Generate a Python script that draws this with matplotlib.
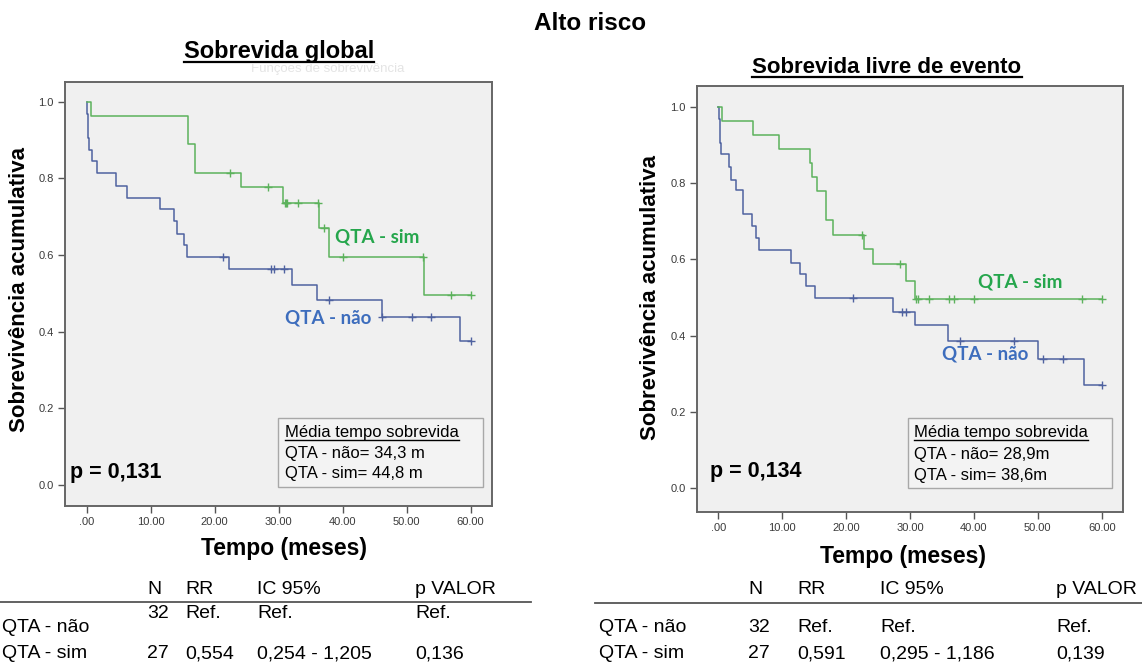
import numpy as np
import matplotlib
matplotlib.use("Agg")
import matplotlib.pyplot as plt
from matplotlib.patches import Rectangle
from matplotlib.lines import Line2D

plt.rcParams['font.family'] = ['Liberation Sans', 'DejaVu Sans']

# ---------------- data ----------------
# Overall survival (Sobrevida global)
os_sim_times = [0.7, 15.8, 17.0, 24.2, 30.7, 36.3, 37.9, 52.7]
os_sim_surv = [0.963, 0.889, 0.815, 0.778, 0.735, 0.670, 0.594, 0.496]
os_sim_cens = [22.4, 28.4, 31.0, 31.2, 31.4, 33.0, 36.2, 37.1, 40.1, 52.6, 57.0, 60.0]

os_nao_times = [0.1, 0.2, 0.3, 0.4, 0.9, 1.7, 4.6, 6.4, 11.5, 13.7, 14.1, 15.3, 15.7,
                22.3, 32.1, 36.0, 46.1, 58.3]
os_nao_surv = [0.969, 0.938, 0.906, 0.875, 0.844, 0.813, 0.781, 0.750, 0.719, 0.688,
               0.656, 0.625, 0.594, 0.563, 0.522, 0.483, 0.439, 0.376]
os_nao_cens = [21.3, 28.8, 29.3, 30.9, 37.9, 46.2, 50.8, 53.9, 60.0]

# Event-free survival (Sobrevida livre de evento)
efs_sim_times = [0.6, 5.5, 9.5, 14.4, 14.7, 15.5, 16.8, 17.9, 22.8, 24.2, 29.3, 30.8]
efs_sim_surv = [0.963, 0.926, 0.889, 0.852, 0.815, 0.778, 0.704, 0.665, 0.626, 0.587,
                0.542, 0.496]
efs_sim_cens = [22.5, 28.4, 31.0, 31.3, 33.0, 36.1, 36.9, 40.0, 56.9, 60.0]

efs_nao_times = [0.1, 0.2, 0.3, 0.4, 1.7, 2.0, 2.7, 3.8, 5.3, 5.9, 6.4, 11.4, 12.8,
                 13.7, 15.2, 27.4, 30.8, 35.9, 50.0, 57.3]
efs_nao_surv = [0.969, 0.938, 0.906, 0.875, 0.843, 0.809, 0.781, 0.720, 0.687, 0.656,
                0.625, 0.591, 0.561, 0.529, 0.500, 0.463, 0.428, 0.387, 0.339, 0.270]
efs_nao_cens = [21.1, 28.8, 29.3, 37.8, 46.2, 50.8, 53.9, 60.0]

x_ticks = [0, 10, 20, 30, 40, 50, 60]
x_tick_labels = ['.00', '10.00', '20.00', '30.00', '40.00', '50.00', '60.00']
y_ticks = [0.0, 0.2, 0.4, 0.6, 0.8, 1.0]
y_tick_labels = ['0.0', '0.2', '0.4', '0.6', '0.8', '1.0']

p_os = '0,131'
p_efs = '0,134'
mean_os = ['34,3 m', '44,8 m']
mean_efs = ['28,9m', '38,6m']

table_header = ['N', 'RR', 'IC 95%', 'p VALOR']
table_groups = ['QTA - não', 'QTA - sim']
os_table = [['32', 'Ref.', 'Ref.', 'Ref.'],
            ['27', '0,554', '0,254 - 1,205', '0,136']]
efs_table = [['32', 'Ref.', 'Ref.', 'Ref.'],
             ['27', '0,591', '0,295 - 1,186', '0,139']]

# ---------------- style ----------------
GREEN_LINE = '#5cb25c'
BLUE_LINE = '#4f62a0'
GREEN_TXT = '#25a64c'
BLUE_TXT = '#3d6dbd'
PANEL_BG = '#f0f0f0'
FRAME = '#666666'

W, H = 1142, 668
fig = plt.figure(figsize=(W / 100, H / 100), dpi=100)


def fx(x):
    return x / W


def fy(y):
    return 1 - y / H


def km(ax, times, surv, cens, color):
    xs = [0] + list(times) + [max(cens)]
    ys = [1.0] + list(surv) + [surv[-1]]
    ax.step(xs, ys, where='post', color=color, lw=1.1, zorder=3)
    t = np.asarray(times)
    s = np.asarray(surv)
    lv = []
    for c in cens:
        i = np.searchsorted(t, c, side='right')
        lv.append(1.0 if i == 0 else s[i - 1])
    ax.plot(cens, lv, '+', color=color, ms=6, mew=1.0, zorder=4)


def make_axes(px_left, px_top, px_right, px_bottom, x0px, x60px, y1px, y0px):
    ax = fig.add_axes([fx(px_left), fy(px_bottom),
                       (px_right - px_left) / W, (px_bottom - px_top) / H])
    ppm = (x60px - x0px) / 60.0
    ppu = (y0px - y1px)
    ax.set_xlim(-(x0px - px_left) / ppm, 60 + (px_right - x60px) / ppm)
    ax.set_ylim(-(px_bottom - y0px) / ppu, 1 + (y1px - px_top) / ppu)
    ax.set_facecolor(PANEL_BG)
    for sp in ax.spines.values():
        sp.set_color(FRAME)
        sp.set_linewidth(1.4)
    ax.set_xticks(x_ticks)
    ax.set_xticklabels(x_tick_labels)
    ax.set_yticks(y_ticks)
    ax.set_yticklabels(y_tick_labels)
    ax.tick_params(direction='out', length=5, width=1, color='#555555',
                   labelsize=8, labelcolor='#3a3a3a', pad=3)
    return ax


def underline(txt, offset=3, lw=1.3, color='black'):
    r = fig.canvas.get_renderer()
    bb = txt.get_window_extent(renderer=r)
    x_, y_ = txt.get_transform().transform(txt.get_position())
    yl = y_ - offset
    fig.add_artist(Line2D([bb.x0 / W, bb.x1 / W], [yl / H, yl / H],
                          transform=fig.transFigure, color=color, lw=lw))


def panel(ax, sim, nao, p, box, lbl_sim, lbl_nao):
    km(ax, *nao, BLUE_LINE)
    km(ax, *sim, GREEN_LINE)
    ax.text(lbl_sim[0], lbl_sim[1], 'QTA - sim', transform=ax.transAxes,
            color=GREEN_TXT, fontsize=13.5, fontweight='bold', family='Lato',
            va='center', ha='left')
    ax.text(lbl_nao[0], lbl_nao[1], 'QTA - não', transform=ax.transAxes,
            color=BLUE_TXT, fontsize=13.5, fontweight='bold', family='Lato',
            va='center', ha='left')
    ax.text(p[0], p[1], 'p = ' + p[2], transform=ax.transAxes, fontsize=15.5,
            fontweight='bold', va='center', ha='left')
    bx0, by0, bx1, by1 = box
    ax.add_patch(Rectangle((bx0, by0), bx1 - bx0, by1 - by0, transform=ax.transAxes,
                           facecolor='#f3f3f3', edgecolor='#a8a8a8', lw=1.0, zorder=5))
    return ax


# Left panel: overall survival
axL = make_axes(65, 82, 492, 506, 86.5, 470.5, 101.7, 485.0)
panel(axL, (os_sim_times, os_sim_surv, os_sim_cens),
      (os_nao_times, os_nao_surv, os_nao_cens),
      (0.012, 0.080, p_os), (0.499, 0.045, 0.979, 0.2075),
      (0.632, 0.634), (0.515, 0.443))

# Right panel: event-free survival
axR = make_axes(697, 86, 1123, 512, 718.3, 1101.7, 106.7, 488.3)
panel(axR, (efs_sim_times, efs_sim_surv, efs_sim_cens),
      (efs_nao_times, efs_nao_surv, efs_nao_cens),
      (0.031, 0.094, p_efs), (0.495, 0.056, 0.974, 0.2207),
      (0.660, 0.540), (0.575, 0.371))

# Mean survival boxes
for (x0, ys, vals) in [(285, (437, 458, 478), mean_os), (914, (437, 459, 480), mean_efs)]:
    t0 = fig.text(fx(x0), fy(ys[0]), 'Média tempo sobrevida', fontsize=12,
                  va='baseline', ha='left', zorder=10)
    fig.text(fx(x0), fy(ys[1]), 'QTA - não= ' + vals[0], fontsize=12,
             va='baseline', ha='left', zorder=10)
    fig.text(fx(x0), fy(ys[2]), 'QTA - sim= ' + vals[1], fontsize=12,
             va='baseline', ha='left', zorder=10)
    underline(t0, offset=2.5, lw=1.0)

# Faint remnant of the original SPSS chart title below the heading
fig.text(fx(328), fy(72), 'Funções de sobrevivência', fontsize=9.5,
         color='#e4e4e4', ha='center', va='baseline')

# Titles
fig.text(fx(590), fy(30), 'Alto risco', fontsize=17.5, fontweight='bold',
         ha='center', va='baseline')
tL = fig.text(fx(279), fy(58), 'Sobrevida global', fontsize=17, fontweight='bold',
              ha='center', va='baseline')
tR = fig.text(fx(887), fy(73), 'Sobrevida livre de evento', fontsize=16,
              fontweight='bold', ha='center', va='baseline')
underline(tL, offset=4, lw=1.6)
underline(tR, offset=4, lw=1.6)

# Axis labels
for (x, y) in [(20, 290), (650, 298)]:
    fig.text(fx(x), fy(y), 'Sobrevivência acumulativa', rotation=90, fontsize=16,
             fontweight='bold', ha='center', va='center')
for (x, y) in [(284, 548), (903, 557)]:
    fig.text(fx(x), fy(y), 'Tempo (meses)', fontsize=16.5, fontweight='bold',
             ha='center', va='center')

# Hazard ratio tables
TFS = 14


def table(xs, y_head, y_line, line_x, y_rows, y_labels, rows):
    for x, h in zip(xs[1:], table_header):
        fig.text(fx(x), fy(y_head), h, fontsize=TFS, ha='left', va='center')
    fig.add_artist(Line2D([fx(line_x[0]), fx(line_x[1])], [fy(y_line), fy(y_line)],
                          transform=fig.transFigure, color='#555555', lw=1.3))
    for g, yl, yr, row in zip(table_groups, y_labels, y_rows, rows):
        fig.text(fx(xs[0]), fy(yl), g, fontsize=TFS, ha='left', va='center')
        for x, v in zip(xs[1:], row):
            fig.text(fx(x), fy(yr), v, fontsize=TFS, ha='left', va='center')


table([2, 147, 185, 257, 415], 590, 602, (0, 531), (613, 654), (628, 654), os_table)
table([599, 748, 797, 880, 1056], 590, 603, (595, 1142), (627, 654), (627, 654), efs_table)

fig.savefig('out.png', dpi=100, facecolor='white')
